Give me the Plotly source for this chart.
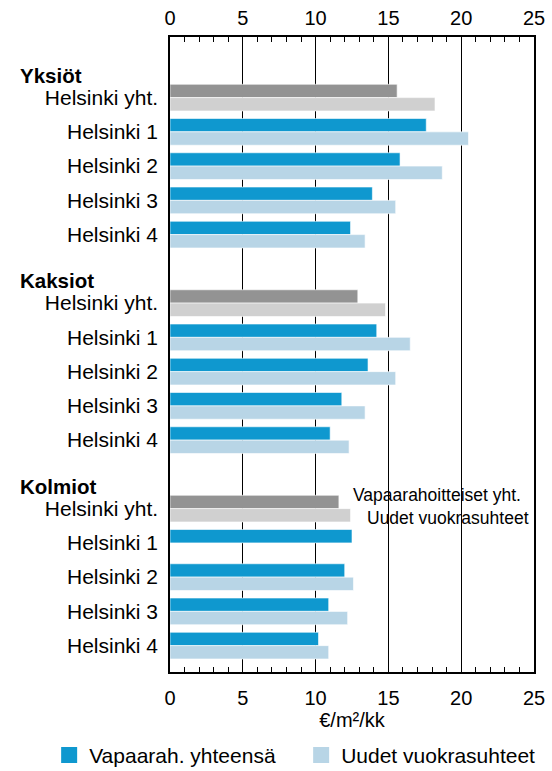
import plotly.graph_objects as go

# ---- data ----
groups = ["Yksiöt", "Kaksiot", "Kolmiot"]
areas = ["Helsinki yht.", "Helsinki 1", "Helsinki 2", "Helsinki 3", "Helsinki 4"]

yksiot_vapaarah = [15.6, 17.6, 15.8, 13.9, 12.4]
yksiot_uudet = [18.2, 20.5, 18.7, 15.5, 13.4]
kaksiot_vapaarah = [12.9, 14.2, 13.6, 11.8, 11.0]
kaksiot_uudet = [14.8, 16.5, 15.5, 13.4, 12.3]
kolmiot_vapaarah = [11.6, 12.5, 12.0, 10.9, 10.2]
kolmiot_uudet = [12.4, None, 12.6, 12.2, 10.9]

x_ticks = [0, 5, 10, 15, 20, 25]
x_title = "€/m²/kk"
series_names = ["Vapaarah. yhteensä", "Uudet vuokrasuhteet"]
total_labels = ["Vapaarahoitteiset yht.", "Uudet vuokrasuhteet"]

# ---- layout of rows ----
vapaarah = [yksiot_vapaarah, kaksiot_vapaarah, kolmiot_vapaarah]
uudet = [yksiot_uudet, kaksiot_uudet, kolmiot_uudet]
step = len(areas) + 1

pos, labels, vv, uu, tot = [], [], [], [], []
for g in range(len(groups)):
    for i, a in enumerate(areas):
        pos.append(g * step + i)
        labels.append(a)
        vv.append(vapaarah[g][i])
        uu.append(uudet[g][i])
        tot.append(i == 0)

def sel(vals, flag):
    return [v for v, t in zip(vals, tot) if t == flag]

DARK_BLUE = "#0f98cf"
LIGHT_BLUE = "#b8d5e6"
DARK_GRAY = "#939393"
LIGHT_GRAY = "#d0d0d0"
BW = 0.39
FONT = "Liberation Sans, Arial, sans-serif"

fig = go.Figure()
common = dict(orientation="h", width=BW, showlegend=False,
              marker_line=dict(width=0.6, color="white"))
fig.add_trace(go.Bar(x=sel(vv, True), y=sel(pos, True), offset=-BW,
                     marker_color=DARK_GRAY, **common))
fig.add_trace(go.Bar(x=sel(uu, True), y=sel(pos, True), offset=0,
                     marker_color=LIGHT_GRAY, **common))
fig.add_trace(go.Bar(x=sel(vv, False), y=sel(pos, False), offset=-BW,
                     marker_color=DARK_BLUE, **common))
fig.add_trace(go.Bar(x=sel(uu, False), y=sel(pos, False), offset=0,
                     marker_color=LIGHT_BLUE, **common))

# legend entries
for name, col in zip(series_names, [DARK_BLUE, LIGHT_BLUE]):
    fig.add_trace(go.Scatter(x=[None], y=[None], mode="markers", name=name,
                             marker=dict(symbol="square", size=20, color=col)))
# top axis carrier
fig.add_trace(go.Scatter(x=[None], y=[None], xaxis="x2", showlegend=False))

axis_common = dict(
    range=[0, 25], tickvals=x_ticks, ticks="inside", ticklen=5, tickcolor="black",
    tickfont=dict(size=20, color="black", family=FONT), zeroline=False,
    minor=dict(dtick=1, ticks="inside", ticklen=5, tickcolor="black", showgrid=False),
    ticklabelstandoff=7,
)

fig.update_layout(
    width=552, height=771,
    margin=dict(l=170, r=18, t=37, b=99, autoexpand=False),
    paper_bgcolor="white", plot_bgcolor="white",
    barmode="overlay",
    font=dict(family=FONT, color="black"),
    xaxis=dict(**axis_common, showgrid=True, gridcolor="black", gridwidth=1,
               showline=True, linecolor="black", linewidth=1.5, mirror=True,
               automargin=True,
               title=dict(text=x_title, font=dict(size=20, color="black"), standoff=3)),
    xaxis2=dict(**axis_common, overlaying="x", side="top", anchor="y", showgrid=False,
                automargin=False),
    yaxis=dict(range=[16.77, -1.77], tickvals=pos, ticktext=labels, ticks="",
               tickfont=dict(size=21, color="black", family=FONT),
               showgrid=False, zeroline=False, showline=True, linecolor="black",
               linewidth=1.5, mirror=True, ticklabelstandoff=6, automargin=False),
    legend=dict(orientation="h", x=-0.332, xanchor="left",
                y=-0.099, yanchor="top",
                font=dict(size=21, color="black", family=FONT), itemwidth=30,
                entrywidth=207, entrywidthmode="pixels",
                bgcolor="rgba(0,0,0,0)"),
)

annotations = []
for g, name in enumerate(groups):
    annotations.append(dict(x=-0.418, xref="paper", xanchor="left",
                            y=g * step - 0.65, yref="y", yanchor="middle",
                            text="<b>%s</b>" % name, showarrow=False,
                            font=dict(size=20.5, color="black", family=FONT)))
last = (len(groups) - 1) * step
annotations.append(dict(x=12.45, xref="x", xanchor="left", y=last - 0.4, yref="y",
                        yanchor="middle", text=total_labels[0], showarrow=False,
                        font=dict(size=17.5, color="black", family=FONT)))
annotations.append(dict(x=13.4, xref="x", xanchor="left", y=last + 0.26, yref="y",
                        yanchor="middle", text=total_labels[1], showarrow=False,
                        font=dict(size=17.5, color="black", family=FONT)))
fig.update_layout(annotations=annotations)

fig.write_html("out.html", config={"displayModeBar": False},
               post_script="document.body.style.margin='0';")
